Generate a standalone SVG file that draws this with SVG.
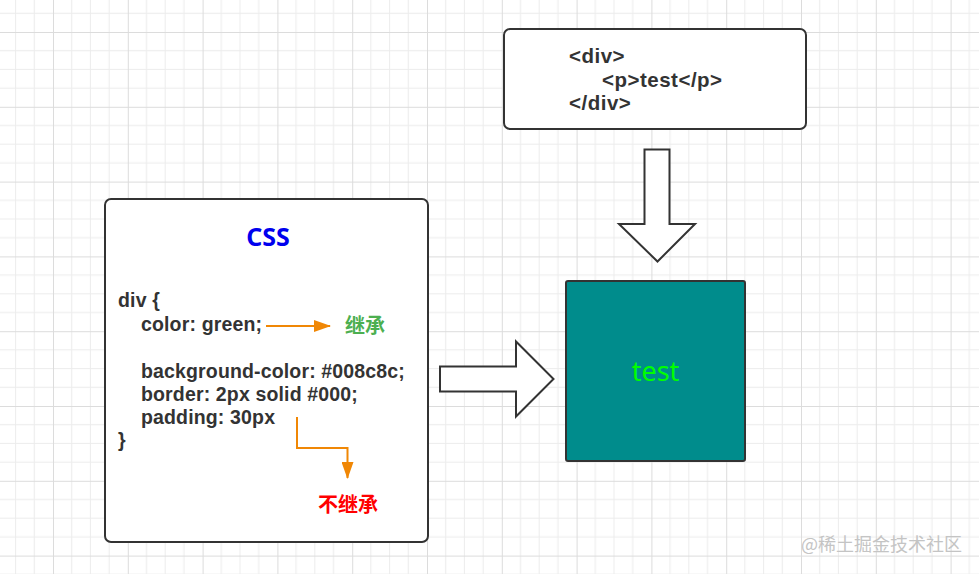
<svg xmlns="http://www.w3.org/2000/svg" width="979" height="574" viewBox="0 0 979 574">
<style>
.box{fill:#fff;stroke:#333;stroke-width:2}
.code{font-family:"Liberation Sans","Noto Sans CJK SC",sans-serif;font-weight:bold;font-size:19.5px;letter-spacing:0.15px;fill:#333}
.top{font-size:20.5px;letter-spacing:0.5px}
.cjk{font-family:"Noto Sans CJK SC",sans-serif;font-weight:bold;font-size:20px}
.blk{fill:#fff;stroke:#333;stroke-width:2;stroke-linejoin:miter}
.conn{fill:none;stroke:#f08705;stroke-width:2}
</style>
<defs>
<pattern id="grid" x="53" y="32" width="74.8" height="74.8" patternUnits="userSpaceOnUse">
<path d="M18.7 0V74.8M37.4 0V74.8M56.1 0V74.8M0 18.7H74.8M0 37.4H74.8M0 56.1H74.8" stroke="#ececec" stroke-width="1" fill="none"/>
<path d="M0.5 0V74.8M0 0.5H74.8" stroke="#dcdcdc" stroke-width="1" fill="none"/>
</pattern>
<marker id="ah" markerWidth="17" markerHeight="12" refX="16" refY="6" orient="auto" markerUnits="userSpaceOnUse">
<path d="M0 0L17 6L0 12Z" fill="#f08705"/>
</marker>
</defs>
<rect width="979" height="574" fill="#fff"/>
<rect width="979" height="574" fill="url(#grid)"/>

<g id="html-box">
<rect class="box" x="504" y="29" width="302" height="100" rx="6"/>
<text class="code top" x="569" y="63">&lt;div&gt;</text>
<text class="code top" x="602" y="87">&lt;p&gt;test&lt;/p&gt;</text>
<text class="code top" x="569" y="110">&lt;/div&gt;</text>
</g>

<g id="css-box">
<rect class="box" x="105" y="199" width="323" height="343" rx="6"/>
<text x="268" y="246" text-anchor="middle" style="font-family:'Noto Sans',sans-serif;font-weight:bold;font-size:25px;fill:#0000ee">CSS</text>
<text class="code" x="118" y="307">div {</text>
<text class="code" x="141" y="331">color: green;</text>
<text class="code" x="141" y="378">background-color: #008c8c;</text>
<text class="code" x="141" y="401">border: 2px solid #000;</text>
<text class="code" x="141" y="424">padding: 30px</text>
<text class="code" x="118" y="447">}</text>
</g>

<g id="label-inherit">
<text class="cjk" x="345" y="333" fill="#4caf50">继承</text>
</g>
<g id="label-noinherit">
<text class="cjk" x="318" y="512" fill="#ff0000">不继承</text>
</g>

<g id="result-box">
<rect x="566" y="281" width="179" height="180" rx="2" fill="#008c8c" stroke="#333" stroke-width="2"/>
<text x="655.5" y="381" text-anchor="middle" style="font-family:'Noto Sans',sans-serif;font-size:27px;fill:#00ff00">test</text>
</g>

<g id="connectors">
<path class="conn" d="M266 326H330" marker-end="url(#ah)"/>
<path class="conn" d="M297 417V448H347.5V478" marker-end="url(#ah)"/>
<path class="blk" d="M644.5 149.5H669.5V224H695L657.5 261.5L619 224H644.5Z"/>
<path class="blk" d="M440 366.5H516V341.5L553.5 379L516 416.5V391.5H440Z"/>
</g>

<text x="801" y="551" style="font-family:'Noto Sans CJK SC',sans-serif;font-size:18px;fill:#c4c4c4">@稀土掘金技术社区</text>
</svg>
